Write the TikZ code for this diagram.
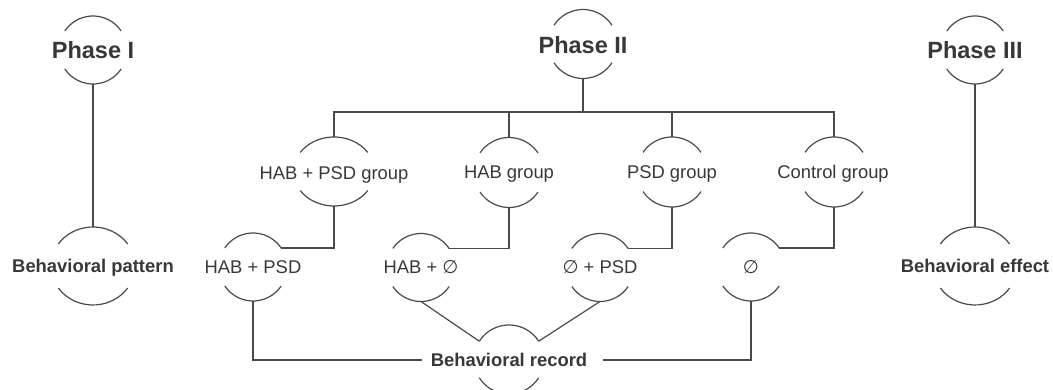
\documentclass[tikz,border=0pt]{standalone}
\usepackage{fontspec}
\setmainfont{Liberation Sans}
\newfontfamily\symfont{DejaVu Sans}
\newcommand\noneset{{\symfont ∅}}
\usetikzlibrary{calc}
\definecolor{linecol}{HTML}{4A4A4A}
\definecolor{textcol}{HTML}{383838}
\tikzset{
  capline/.style={draw=linecol, line width=1.2pt},
  conn/.style={draw=linecol, line width=1.2pt},
  txt/.style={text=textcol, inner sep=0pt, anchor=base, font=\fontsize{18.4}{20}\selectfont},
  boldtxt/.style={txt, font=\fontsize{18.4}{20}\selectfont\bfseries},
  phasetxt/.style={txt, font=\fontsize{23.5}{26}\selectfont\bfseries},
}
% #1 name, #2 x, #3 y, #4 rx, #5 ry, #6 angle
\newcommand\capnode[6]{%
  \coordinate (#1) at (#2,#3);
  \coordinate (#1-t) at ($(#1)+(0,#5)$);
  \coordinate (#1-b) at ($(#1)+(0,-#5)$);
  \coordinate (#1-tr) at ($(#1)+(#6:#4pt and #5pt)$);
  \coordinate (#1-tl) at ($(#1)+({180-#6}:#4pt and #5pt)$);
  \coordinate (#1-br) at ($(#1)+({360-#6}:#4pt and #5pt)$);
  \coordinate (#1-bl) at ($(#1)+({180+#6}:#4pt and #5pt)$);
  \draw[capline] (#1-tr) arc[start angle=#6, end angle={180-#6}, x radius=#4pt, y radius=#5pt];
  \draw[capline] (#1-bl) arc[start angle={180+#6}, end angle={360-#6}, x radius=#4pt, y radius=#5pt];
}
\begin{document}
\begin{tikzpicture}[x=1pt,y=1pt]
\useasboundingbox (0,0) rectangle (1053,390);
\clip (0,0) rectangle (1053,390);
% phases
\capnode{ph1}{93}{340}{34}{34}{34}
\node[phasetxt] (ph1l) at (93,331.6) {Phase I};
\capnode{ph2}{583}{346}{34.5}{34.5}{33}
\node[phasetxt] (ph2l) at (583,336.6) {Phase II};
\capnode{ph3}{975}{340}{34}{34}{34}
\node[phasetxt] (ph3l) at (975,331.6) {Phase III};
% side results
\capnode{bp}{93}{124}{42}{39}{34.5}
\node[boldtxt] (bpl) at (93,117.5) {Behavioral pattern};
\capnode{be}{975}{124}{42}{39}{34.5}
\node[boldtxt] (bel) at (975,117.5) {Behavioral effect};
% groups
\capnode{g1}{334}{218.5}{40.5}{34.5}{33.5}
\node[txt] (g1l) at (334,210.7) {HAB + PSD group};
\capnode{g2}{509}{217.5}{35}{35}{34}
\node[txt] (g2l) at (509,211) {HAB group};
\capnode{g3}{672}{218}{35}{35}{34}
\node[txt] (g3l) at (672,211) {PSD group};
\capnode{g4}{834}{218}{35}{35}{34}
\node[txt] (g4l) at (833,211) {Control group};
% sub nodes
\capnode{s1}{253}{123}{34}{34}{34}
\node[txt] (s1l) at (253,116) {HAB + PSD};
\capnode{s2}{421}{122.5}{34}{34}{34}
\node[txt] (s2l) at (421,116) {HAB + \noneset};
\capnode{s3}{600}{122.5}{34}{34}{34}
\node[txt] (s3l) at (600,116) {\noneset{} + PSD};
\capnode{s4}{751}{123}{34}{34}{34}
\node[txt] (s4l) at (751,116) {\noneset};
% behavioral record
\capnode{br}{509}{30.5}{35}{34.5}{32}
\node[boldtxt] (brl) at (509,23.4) {Behavioral record};
\coordinate (brL) at (422,30);
\coordinate (brR) at (603,30);
\coordinate (bar) at (583,278);
% connectors
\draw[conn] (ph1-b) -- (bp-t);
\draw[conn] (ph3-b) -- (be-t);
\draw[conn] (ph2-b) -- (bar);
\draw[conn] (g1-t) -- (g1-t |- bar) -- (g4-t |- bar) -- (g4-t);
\draw[conn] (g2-t) -- (g2-t |- bar);
\draw[conn] (g3-t) -- (g3-t |- bar);
\draw[conn] (g1-b) |- (s1-tr);
\draw[conn] (g2-b) |- (s2-tr);
\draw[conn] (g3-b) |- (s3-tr);
\draw[conn] (g4-b) |- (s4-tr);
\draw[conn] (s1-b) |- (brL);
\draw[conn] (s4-b) |- (brR);
\draw[conn] (s2-b) -- (br-tl);
\draw[conn] (s3-b) -- (br-tr);
\end{tikzpicture}
\end{document}
